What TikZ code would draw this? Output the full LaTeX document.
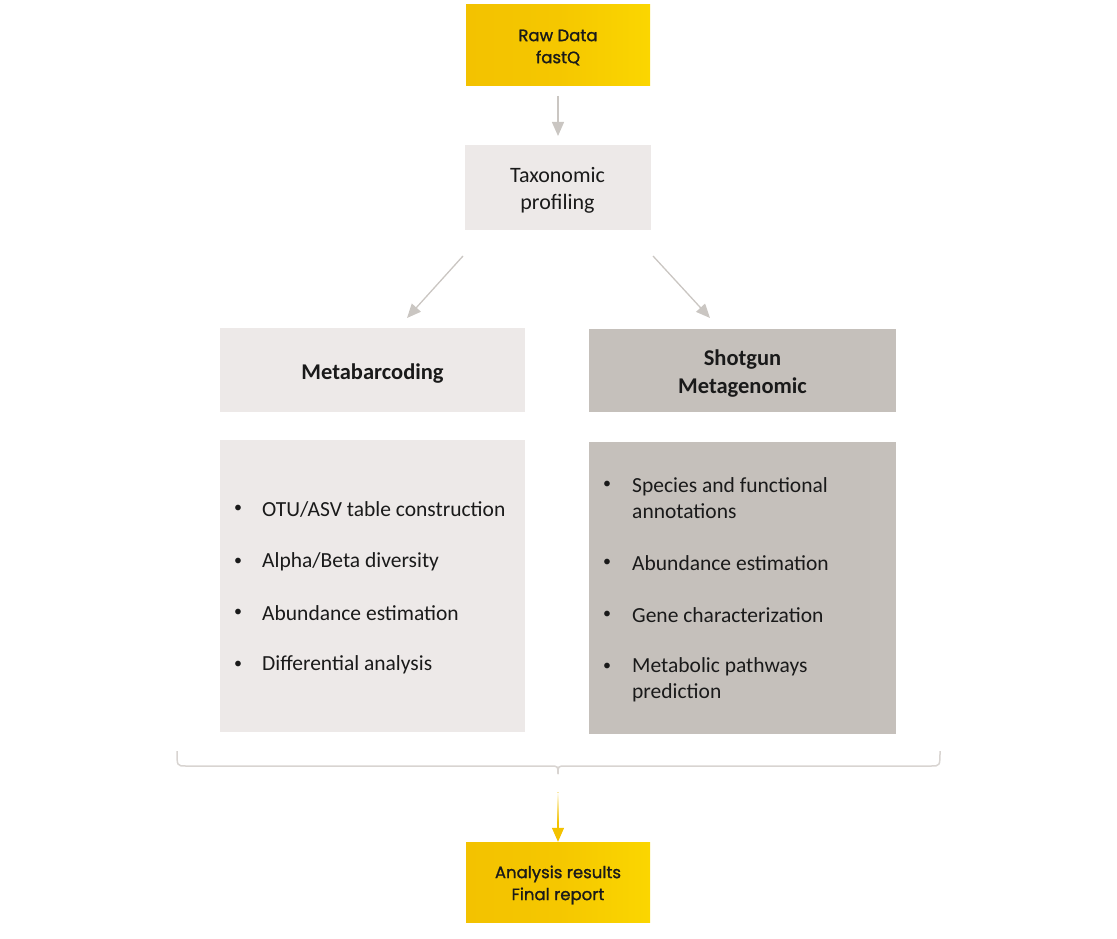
\documentclass[tikz,border=0pt]{standalone}
\usepackage{fontspec}
\setmainfont{Carlito}
\newfontfamily\yfont{Poppins}[FakeBold=1.2]
\usetikzlibrary{arrows.meta,calc}
\definecolor{lightbox}{HTML}{EDE9E8}
\definecolor{darkbox}{HTML}{C5C0BB}
\definecolor{arrowgray}{HTML}{CAC6C2}
\definecolor{bracketgray}{HTML}{D8D4D1}
\definecolor{yelA}{HTML}{F3C200}
\definecolor{yelB}{HTML}{FBD600}
\definecolor{txt}{HTML}{1A1A1A}
\tikzset{
  yellowbox/.style={minimum width=184pt,minimum height=81pt,inner sep=0pt,
    left color=yelA,right color=yelB,middle color=yelA!75!yelB},
  ytext/.style={font=\yfont\fontsize{16.5}{22}\selectfont,text=txt,align=center,inner sep=0pt},
  graybox/.style={draw=white,line width=1pt,fill=lightbox,inner sep=0pt},
  shotbox/.style={draw=white,line width=1pt,fill=darkbox,inner sep=0pt},
  flowarrow/.style={draw=arrowgray,line width=1.3pt,-{Triangle[width=12pt,length=14pt]}},
  item/.style={anchor=west,text=txt,font=\fontsize{21.5}{26}\selectfont,align=left,inner sep=0pt},
  bul/.style={text=txt,font=\fontsize{16}{26}\selectfont,inner sep=0pt},
  headfont/.style={font=\bfseries\fontsize{22.5}{28}\selectfont,text=txt,align=center,inner sep=0pt},
  taxfont/.style={font=\fontsize{22}{27}\selectfont,text=txt,align=center,inner sep=0pt},
  bracketline/.style={draw=bracketgray,line width=1.5pt}
}
\begin{document}
\begin{tikzpicture}[x=1pt,y=-1pt]
\useasboundingbox (0,0) rectangle (1117,939);
% top
\node[yellowbox] (raw) at (558,45.5) {};
\node[ytext] (rawt) at (558,47.5) {Raw Data\\fastQ};
\node[graybox,minimum width=187pt,minimum height=85pt] (tax) at (557.5,187.5) {};
\node[taxfont] (taxt) at (557.5,190.5) {Taxonomic\\profiling};
\draw[flowarrow] (558,96) coordinate (a1) -- (558,136) coordinate (a2);
% branch boxes
\node[graybox,minimum width=306pt,minimum height=85pt] (meta) at (372.5,370) {};
\node[headfont] (metat) at (372.5,373.5) {Metabarcoding};
\node[shotbox,minimum width=308pt,minimum height=84pt] (shot) at (742.5,370.5) {};
\node[headfont] (shott) at (742.5,373.5) {Shotgun\\Metagenomic};
\draw[flowarrow] (463,256) coordinate (b1) -- (407,318) coordinate (b2);
\draw[flowarrow] (653,256) coordinate (c1) -- (710,318) coordinate (c2);
% list boxes
\node[graybox,minimum width=306pt,minimum height=293pt] (metalist) at (372.5,586) {};
\node[shotbox,minimum width=308pt,minimum height=293pt] (shotlist) at (742.5,588) {};
% metabarcoding items
\node[bul] (mb1) at (238,509) {\textbullet};
\node[item] (mt1) at (262,509) {OTU/ASV table construction};
\node[bul] (mb2) at (238,562) {\textbullet};
\node[item] (mt2) at (262,562) {Alpha/Beta diversity};
\node[bul] (mb3) at (238,613) {\textbullet};
\node[item] (mt3) at (262,613) {Abundance estimation};
\node[bul] (mb4) at (238,665) {\textbullet};
\node[item] (mt4) at (262,665) {Differential analysis};
% shotgun items
\node[bul] (sb1) at (607,485) {\textbullet};
\node[item] (st1) at (632,498) {Species and functional\\annotations};
\node[bul] (sb2) at (607,563) {\textbullet};
\node[item] (st2) at (632,563) {Abundance estimation};
\node[bul] (sb3) at (607,615) {\textbullet};
\node[item] (st3) at (632,615) {Gene characterization};
\node[bul] (sb4) at (607,667) {\textbullet};
\node[item] (st4) at (632,680) {Metabolic pathways\\prediction};
% bracket
\coordinate (bl) at (177,751);
\coordinate (br) at (940,751);
\coordinate (bm) at (558,774);
\draw[bracketline] (bl) .. controls (177,766) and (177,766) .. (186,766) -- (550,766) .. controls (558,766) and (558,766) .. (bm);
\draw[bracketline] (br) .. controls (940,766) and (940,766) .. (931,766) -- (566,766) .. controls (558,766) and (558,766) .. (bm);
% bottom
\node[yellowbox,minimum height=80pt] (res) at (558,882) {};
\node[ytext] (rest) at (558,885) {Analysis results\\Final report};
\coordinate (d1) at (558,792);
\draw[draw=yelA,line width=1.3pt,-{Triangle[width=12pt,length=14pt]}] (d1) -- (res.north);
\shade[top color=white,bottom color=yelA] (557.3,792) rectangle (558.7,822);
\end{tikzpicture}
\end{document}
